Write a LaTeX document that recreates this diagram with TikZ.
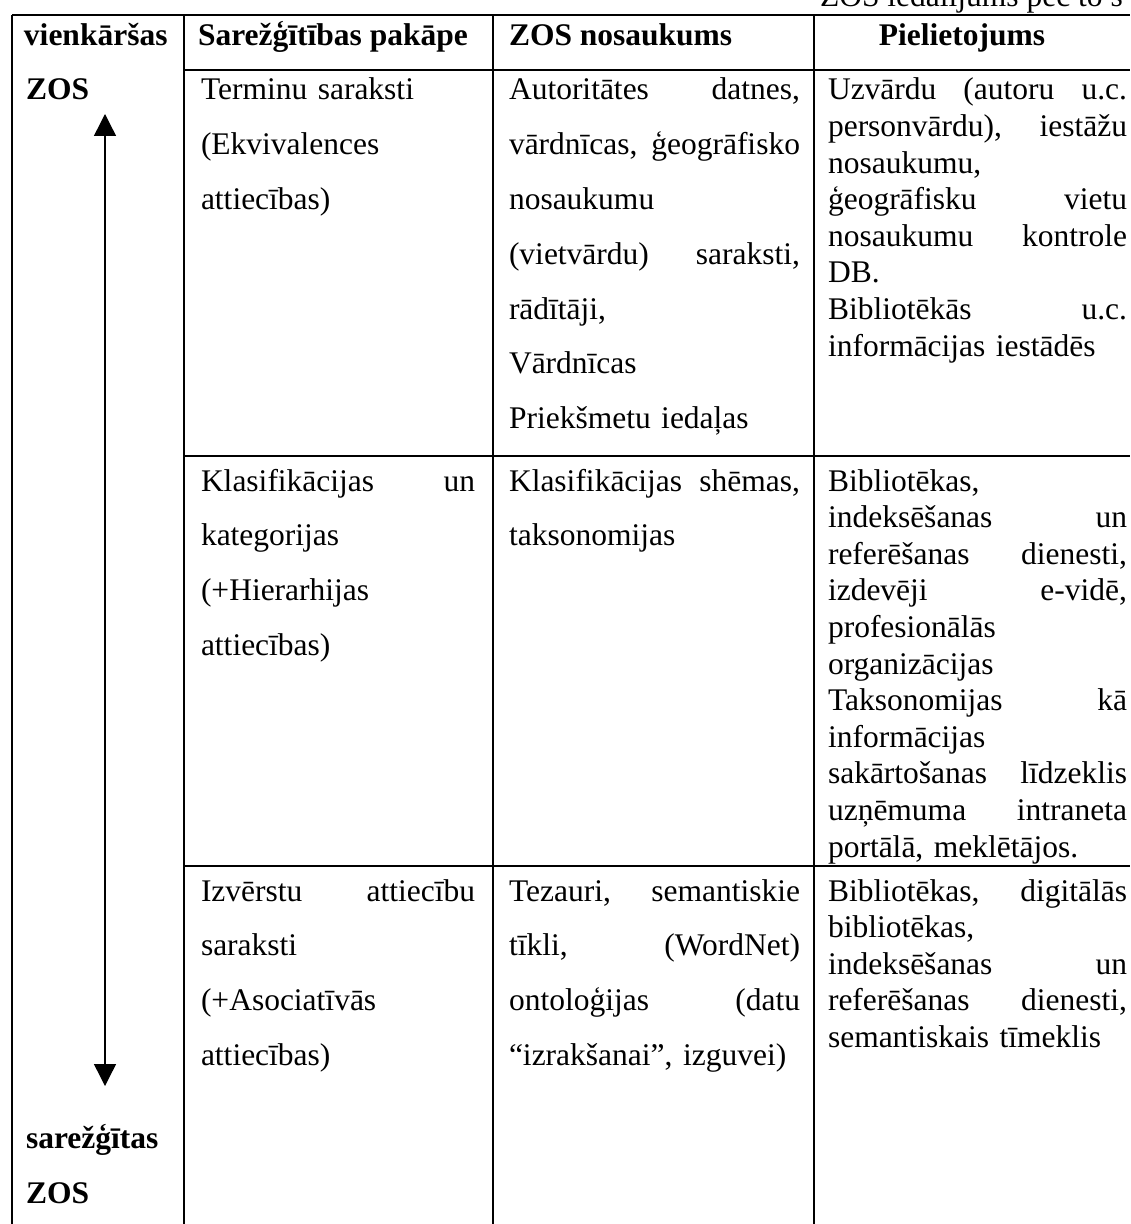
\documentclass[tikz,border=0pt]{standalone}
\usepackage{fontspec}
\setmainfont{Liberation Serif}
\usetikzlibrary{arrows.meta}
% justified line: a box of the cell width whose word spaces share the slack
\newcommand\jfill[2]{\leavevmode\hbox to #1{\frenchspacing\spaceskip=0.25em plus 1fil\relax #2}}
\newcommand\jB[1]{\jfill{137pt}{#1}}
\newcommand\jC[1]{\jfill{145.5pt}{#1}}
\newcommand\jD[1]{\jfill{149.5pt}{#1}}

\begin{document}
\begin{tikzpicture}[x=0.5pt,y=-0.5pt,
  rule/.style={line width=0.7pt, draw=black},
  txt/.style={anchor=base west, inner sep=0pt, outer sep=0pt, align=left},
  dbl/.style={txt, font=\fontsize{15.75}{27.4}\selectfont},
  sgl/.style={txt, font=\fontsize{15.75}{18.3}\selectfont},
  head/.style={inner sep=0pt, outer sep=0pt, font=\fontsize{15.75}{27}\selectfont\bfseries},
  colB/.style={text width=137pt},
  colC/.style={text width=145.5pt},
  colD/.style={text width=149.5pt},
  dirarrow/.style={{Triangle[width=11pt,length=11pt]}-{Triangle[width=11pt,length=11pt]}, line width=0.7pt}
]
\useasboundingbox (0,0) rectangle (1130,1224);
\clip (0,0) rectangle (1130,1224);

% caption above the table
\node[txt, font=\fontsize{15.75}{18}\selectfont] (caption) at (820,7) {ZOS iedalījums pēc to s};

% table grid
\draw[rule] (12,15) -- (1130,15);
\draw[rule] (12,15) -- (12,1224);
\draw[rule] (184,15) -- (184,1224);
\draw[rule] (493,15) -- (493,1224);
\draw[rule] (814,15) -- (814,1224);
\draw[rule] (184,70) -- (1130,70);
\draw[rule] (184,456) -- (1130,456);
\draw[rule] (184,866) -- (1130,866);

% first (merged) column: scale from simple to complex
\node[head, anchor=base west] (simple) at (24,46) {vienkāršas};
\node[head, anchor=base west] (simplezos) at (26,100) {ZOS};
\node[head, anchor=base west] (complex) at (26,1148) {sarežģītas};
\node[head, anchor=base west] (complexzos) at (26,1203) {ZOS};
\coordinate (scaletop) at (105,114);
\coordinate (scalebot) at (105,1086);
\draw[dirarrow] (scaletop) -- (scalebot);

% header row
\node[head, anchor=base west] (hdeg) at (198,46) {Sarežģītības pakāpe};
\node[head, anchor=base west] (hname) at (509,46) {ZOS nosaukums};
\node[head, anchor=base] (huse) at (962,46) {Pielietojums};

% row 1
\node[dbl, colB] (r1b) at (201,100) {Terminu saraksti\\(Ekvivalences\\attiecības)};
\node[dbl, colC] (r1c) at (509,100) {\jC{Autoritātes datnes,}\\\jC{vārdnīcas, ģeogrāfisko}\\nosaukumu\\\jC{(vietvārdu) saraksti,}\\rādītāji,\\Vārdnīcas\\Priekšmetu iedaļas};
\node[sgl, colD] (r1d) at (828,100) {\jD{Uzvārdu (autoru u.c.}\\\jD{personvārdu), iestāžu}\\nosaukumu,\\\jD{ģeogrāfisku vietu}\\\jD{nosaukumu kontrole}\\DB.\\\jD{Bibliotēkās u.c.}\\informācijas iestādēs};

% row 2
\node[dbl, colB] (r2b) at (201,491) {\jB{Klasifikācijas un}\\kategorijas\\(+Hierarhijas\\attiecības)};
\node[dbl, colC] (r2c) at (509,491) {\jC{Klasifikācijas shēmas,}\\taksonomijas};
\node[sgl, colD] (r2d) at (828,491) {Bibliotēkas,\\\jD{indeksēšanas un}\\\jD{referēšanas dienesti,}\\\jD{izdevēji e-vidē,}\\profesionālās\\organizācijas\\\jD{Taksonomijas kā}\\informācijas\\\jD{sakārtošanas līdzeklis}\\\jD{uzņēmuma intraneta}\\portālā, meklētājos.};

% row 3
\node[dbl, colB] (r3b) at (201,901) {\jB{Izvērstu attiecību}\\saraksti\\(+Asociatīvās\\attiecības)};
\node[dbl, colC] (r3c) at (509,901) {\jC{Tezauri, semantiskie}\\\jC{tīkli, (WordNet)}\\\jC{ontoloģijas (datu}\\“izrakšanai”, izguvei)};
\node[sgl, colD] (r3d) at (828,901) {\jD{Bibliotēkas, digitālās}\\bibliotēkas,\\\jD{indeksēšanas un}\\\jD{referēšanas dienesti,}\\semantiskais tīmeklis};
\end{tikzpicture}
\end{document}
